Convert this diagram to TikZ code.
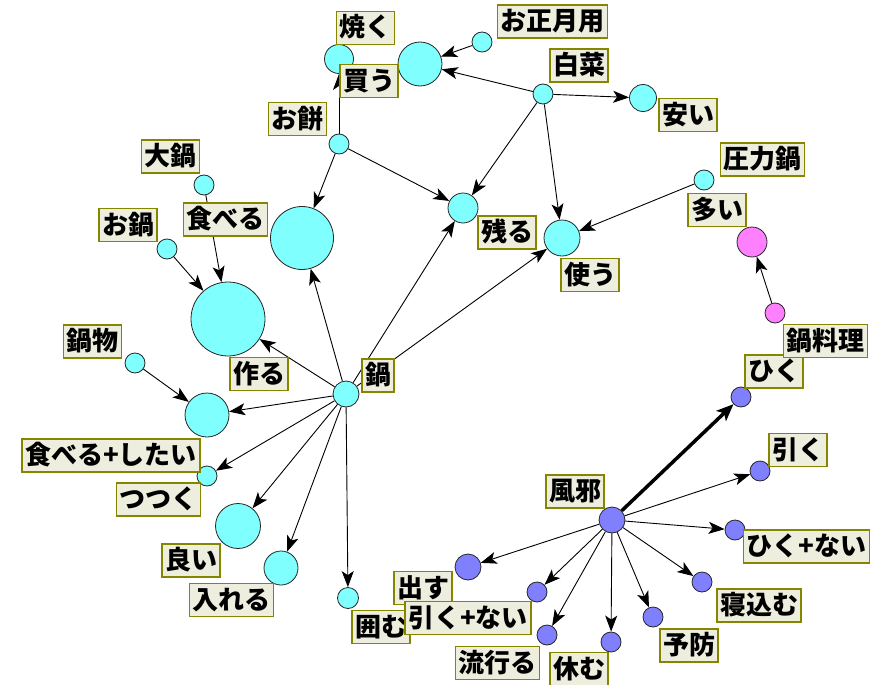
\documentclass[tikz,border=0pt]{standalone}
\usepackage{xcolor}
\usepackage{fontspec}
\setmainfont{Noto Sans CJK JP}
\usepackage{tikz}
\usetikzlibrary{arrows.meta}

\definecolor{cian}{HTML}{80FFFF}
\definecolor{azul}{HTML}{8080FF}
\definecolor{rosa}{HTML}{FF80FF}
\definecolor{fondo}{HTML}{EEEEDF}
\definecolor{borde}{HTML}{858500}

\tikzset{
  nodo/.style={circle, draw=black!85, line width=0.8pt, inner sep=0pt},
  etiqueta/.style={draw=borde, line width=1.4pt, fill=fondo, inner xsep=3pt, inner ysep=3.5pt,
    text height=22pt, text depth=4pt, font=\bfseries\fontsize{26}{30}\selectfont},
  flecha/.style={-{Stealth[length=16pt, width=12pt, inset=4pt]}, line width=0.9pt},
}

\begin{document}
\begin{tikzpicture}[x=1pt, y=-1pt]
      \useasboundingbox (0,0) rectangle (886,685);
      % Nodos
      \node[nodo, fill=cian, minimum size=29pt] (yaku) at (339,59) {};
      \node[nodo, fill=cian, minimum size=44pt] (kau) at (420,64) {};
      \node[nodo, fill=cian, minimum size=20pt] (omochi) at (339,144) {};
      \node[nodo, fill=cian, minimum size=20pt] (shougatsu) at (482,42) {};
      \node[nodo, fill=cian, minimum size=20pt] (hakusai) at (543,94) {};
      \node[nodo, fill=cian, minimum size=27pt] (yasui) at (643,98) {};
      \node[nodo, fill=cian, minimum size=20pt] (atsuryoku) at (704,180) {};
      \node[nodo, fill=rosa, minimum size=30pt] (ooi) at (752,242) {};
      \node[nodo, fill=rosa, minimum size=20pt] (naberyouri) at (775,313) {};
      \node[nodo, fill=cian, minimum size=30pt] (nokoru) at (463,208) {};
      \node[nodo, fill=cian, minimum size=36pt] (tsukau) at (562,238) {};
      \node[nodo, fill=cian, minimum size=20pt] (oonabe) at (204,185) {};
      \node[nodo, fill=cian, minimum size=20pt] (onabe) at (167,249) {};
      \node[nodo, fill=cian, minimum size=63pt] (taberu) at (302,238) {};
      \node[nodo, fill=cian, minimum size=74pt] (tsukuru) at (228,319) {};
      \node[nodo, fill=cian, minimum size=20pt] (nabemono) at (135,363) {};
      \node[nodo, fill=cian, minimum size=26pt] (nabe) at (346,394) {};
      \node[nodo, fill=cian, minimum size=44pt] (tabetai) at (207,415) {};
      \node[nodo, fill=cian, minimum size=20pt] (tsutsuku) at (207,476) {};
      \node[nodo, fill=cian, minimum size=45pt] (yoi) at (238,526) {};
      \node[nodo, fill=cian, minimum size=34pt] (ireru) at (281,568) {};
      \node[nodo, fill=cian, minimum size=21pt] (kakomu) at (348,598) {};
      \node[nodo, fill=azul, minimum size=26pt] (kaze) at (612,520) {};
      \node[nodo, fill=azul, minimum size=20pt] (hiku) at (741,397) {};
      \node[nodo, fill=azul, minimum size=20pt] (hiku2) at (760,471) {};
      \node[nodo, fill=azul, minimum size=20pt] (hikunai) at (735,530) {};
      \node[nodo, fill=azul, minimum size=20pt] (nekomu) at (702,582) {};
      \node[nodo, fill=azul, minimum size=20pt] (yobou) at (653,617) {};
      \node[nodo, fill=azul, minimum size=20pt] (yasumu) at (611,642) {};
      \node[nodo, fill=azul, minimum size=20pt] (hayaru) at (547,635) {};
      \node[nodo, fill=azul, minimum size=20pt] (hikanai) at (537,592) {};
      \node[nodo, fill=azul, minimum size=26pt] (dasu) at (468,567) {};

      % Flechas
      \draw[flecha] (omochi) -- (yaku);
      \draw[flecha] (omochi) -- (taberu);
      \draw[flecha] (omochi) -- (nokoru);
      \draw[flecha] (shougatsu) -- (kau);
      \draw[flecha] (hakusai) -- (kau);
      \draw[flecha] (hakusai) -- (yasui);
      \draw[flecha] (hakusai) -- (nokoru);
      \draw[flecha] (hakusai) -- (tsukau);
      \draw[flecha] (atsuryoku) -- (tsukau);
      \draw[flecha] (naberyouri) -- (ooi);
      \draw[flecha] (oonabe) -- (tsukuru);
      \draw[flecha] (onabe) -- (tsukuru);
      \draw[flecha] (nabemono) -- (tabetai);
      \draw[flecha] (nabe) -- (tsukuru);
      \draw[flecha] (nabe) -- (taberu);
      \draw[flecha] (nabe) -- (nokoru);
      \draw[flecha] (nabe) -- (tsukau);
      \draw[flecha] (nabe) -- (tabetai);
      \draw[flecha] (nabe) -- (tsutsuku);
      \draw[flecha] (nabe) -- (yoi);
      \draw[flecha] (nabe) -- (ireru);
      \draw[flecha] (nabe) -- (kakomu);
      \draw[flecha, line width=3.5pt, -{Stealth[length=17pt, width=14pt, inset=4pt]}] (kaze) -- (hiku);
      \draw[flecha] (kaze) -- (hiku2);
      \draw[flecha] (kaze) -- (hikunai);
      \draw[flecha] (kaze) -- (nekomu);
      \draw[flecha] (kaze) -- (yobou);
      \draw[flecha] (kaze) -- (yasumu);
      \draw[flecha] (kaze) -- (hayaru);
      \draw[flecha] (kaze) -- (hikanai);
      \draw[flecha] (kaze) -- (dasu);

      % Etiquetas
      \node[etiqueta] (yaku-e) at (365.5,28) {焼く};
      \node[etiqueta] (kau-e) at (369,81) {買う};
      \node[etiqueta] (omochi-e) at (297.5,119) {お餅};
      \node[etiqueta] (oonabe-e) at (170.5,156.5) {大鍋};
      \node[etiqueta] (onabe-e) at (128,225) {お鍋};
      \node[etiqueta] (taberu-e) at (225.5,219.5) {食べる};
      \node[etiqueta] (nabemono-e) at (92.5,341.5) {鍋物};
      \node[etiqueta] (tsukuru-e) at (259,374) {作る};
      \node[etiqueta] (nabe-e) at (378,375.5) {鍋};
      \node[etiqueta] (tabetai-e) at (111,455.5) {食べる+したい};
      \node[etiqueta] (tsutsuku-e) at (158.5,499.5) {つつく};
      \node[etiqueta] (yoi-e) at (191,560.5) {良い};
      \node[etiqueta] (ireru-e) at (231.5,600) {入れる};
      \node[etiqueta] (kakomu-e) at (381,627) {囲む};
      \node[etiqueta] (dasu-e) at (423,588) {出す};
      \node[etiqueta] (hikanai-e) at (468,618) {引く+ない};
      \node[etiqueta] (hayaru-e) at (497.5,663) {流行る};
      \node[etiqueta] (yasumu-e) at (579,669) {休む};
      \node[etiqueta] (yobou-e) at (689,645.5) {予防};
      \node[etiqueta] (nekomu-e) at (759,605.5) {寝込む};
      \node[etiqueta] (hikunai-e) at (806.5,546.5) {ひく+ない};
      \node[etiqueta] (kaze-e) at (575,491.5) {風邪};
      \node[etiqueta] (hiku2-e) at (798,450) {引く};
      \node[etiqueta] (hiku-e) at (774,371.5) {ひく};
      \node[etiqueta] (naberyouri-e) at (825.5,341) {鍋料理};
      \node[etiqueta] (ooi-e) at (717,210) {多い};
      \node[etiqueta] (atsuryoku-e) at (762.5,159.5) {圧力鍋};
      \node[etiqueta] (tsukau-e) at (590,275) {使う};
      \node[etiqueta] (nokoru-e) at (507,232.5) {残る};
      \node[etiqueta] (yasui-e) at (688,115) {安い};
      \node[etiqueta] (hakusai-e) at (579,65.5) {白菜};
      \node[etiqueta] (shougatsu-e) at (552.5,21.5) {お正月用};
    \end{tikzpicture}
\end{document}
